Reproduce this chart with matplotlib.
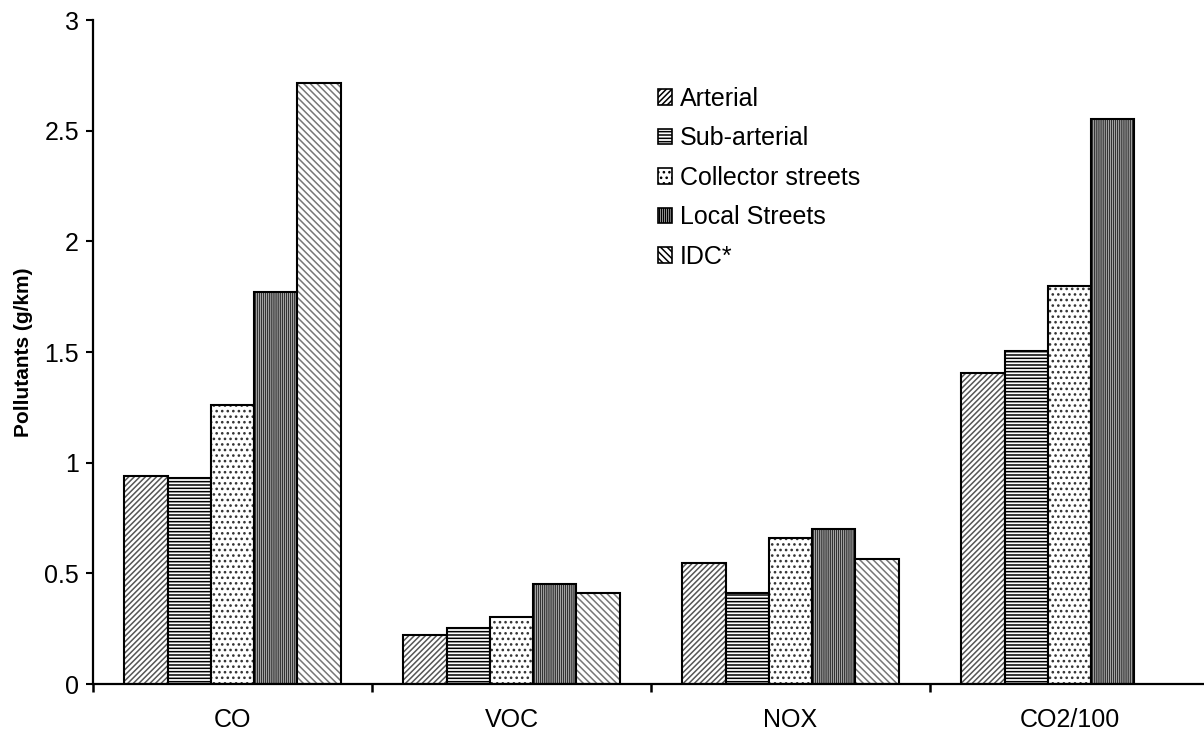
import matplotlib.pyplot as plt
from matplotlib.patches import Patch
from matplotlib.ticker import FuncFormatter
import numpy as np

plt.rcParams['font.family'] = ['Liberation Sans', 'DejaVu Sans']
plt.rcParams['hatch.linewidth'] = 1.1

# Data
categories = ['CO', 'VOC', 'NOX', 'CO2/100']
road_types = ['Arterial', 'Sub-arterial', 'Collector streets', 'Local Streets', 'IDC*']
arterial = [0.94, 0.22, 0.546, 1.405]
sub_arterial = [0.93, 0.252, 0.41, 1.505]
collector = [1.26, 0.302, 0.659, 1.80]
local_streets = [1.77, 0.45, 0.70, 2.552]
idc = [2.716, 0.41, 0.563, None]   # no IDC bar for CO2/100

series = [arterial, sub_arterial, collector, local_streets, idc]

# hatch pattern, hatch colour for each series
styles = [
    ('//////', '#555555'),
    ('-----', '#000000'),
    ('...', '#333333'),
    ('||||||||', '#333333'),
    ('\\\\\\\\\\', '#777777'),
]

fig = plt.figure(figsize=(12.04, 7.36), dpi=100)
ax = fig.add_axes([93 / 1204, 1 - 684 / 736, 1116 / 1204, 664 / 736])

x = np.arange(len(categories))
width = 0.155

for i, vals in enumerate(series):
    hatch, hcol = styles[i]
    xs = [xx + (i - 2) * width for xx, v in zip(x, vals) if v is not None]
    ys = [v for v in vals if v is not None]
    # hatched fill (edge colour drives the hatch colour)
    ax.bar(xs, ys, width, color='white', edgecolor=hcol, hatch=hatch,
           linewidth=0, align='center')
    # black outline on top
    ax.bar(xs, ys, width, fill=False, edgecolor='black', linewidth=1.5,
           align='center')

ax.set_xlim(-0.5, len(categories) - 0.5)
ax.set_ylim(0, 3)

for s in ['top', 'right']:
    ax.spines[s].set_visible(False)
for s in ['left', 'bottom']:
    ax.spines[s].set_linewidth(1.6)

ax.set_yticks([0, 0.5, 1, 1.5, 2, 2.5, 3])
ax.yaxis.set_major_formatter(FuncFormatter(lambda v, p: f'{v:g}'))
ax.tick_params(axis='y', direction='out', length=5, width=1.5, labelsize=18, pad=5)

# category boundaries get tick marks, names sit in the middle
ax.set_xticks(np.arange(len(categories) + 1) - 0.5)
ax.set_xticklabels([])
ax.tick_params(axis='x', which='major', direction='out', length=6, width=1.8)
ax.set_xticks(x, minor=True)
ax.set_xticklabels(categories, minor=True, fontsize=18)
ax.tick_params(axis='x', which='minor', length=0, pad=17)

ax.set_ylabel('Pollutants (g/km)', fontsize=15, fontweight='bold', labelpad=8)

handles = [Patch(facecolor='white', edgecolor='black', hatch=h, linewidth=1.2)
           for h, c in styles]
ax.legend(handles, road_types, loc='upper left', bbox_to_anchor=(0.5065, 0.8995),
          frameon=False, fontsize=18, handlelength=0.56, handleheight=0.56,
          handletextpad=0.3, labelspacing=0.62, borderpad=0, borderaxespad=0)

fig.savefig('out.png', dpi=100)
